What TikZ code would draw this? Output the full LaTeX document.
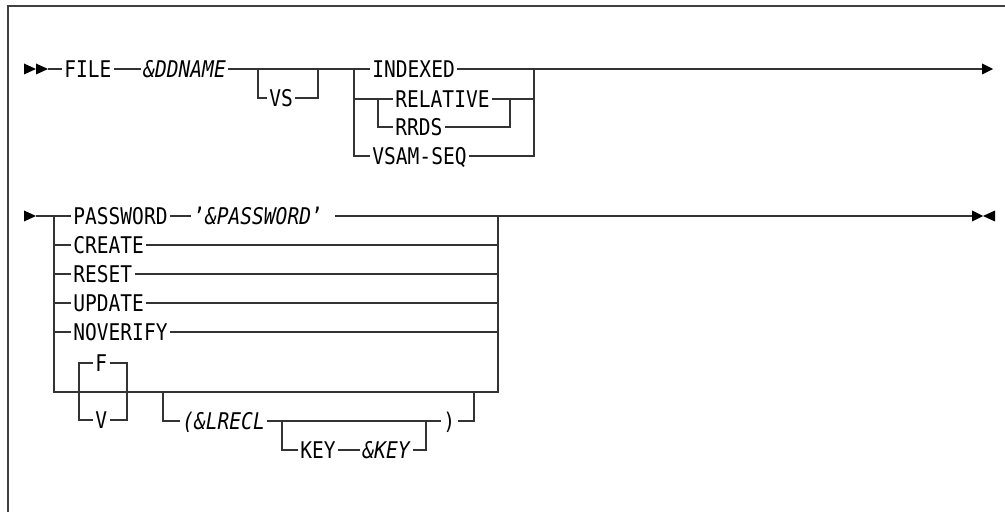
\documentclass[tikz,border=0pt]{standalone}
\usepackage{fontspec}
\newfontfamily\railfont{DejaVu Sans Mono}[FakeStretch=0.85]
\usetikzlibrary{positioning}

\begin{document}
\begin{tikzpicture}[x=0.5pt, y=-0.5pt,
    kw/.style={font=\railfont\fontsize{11.5}{13}\selectfont, anchor=west,
      inner xsep=1pt, inner ysep=0pt, text height=8.4pt, text depth=0pt},
    rail/.style={draw=black!80, line width=0.75pt},
    frame/.style={draw=black!75, line width=0.8pt}
  ]
    \useasboundingbox (0,0) rectangle (1005,512);
    \draw[frame] (8,512) -- (8,6) -- (1005,6);

    \node[kw] (file)     at (62,69)  {FILE};
    \node[kw] (ddname)   at (141,69) {\textit{\&DDNAME}};
    \node[kw] (vs)       at (267,98) {VS};
    \node[kw] (indexed)  at (370,69) {INDEXED};
    \node[kw] (relative) at (393,99) {RELATIVE};
    \node[kw] (rrds)     at (393,127) {RRDS};
    \node[kw] (vsamseq)  at (370,156) {VSAM-SEQ};

    \coordinate (start1) at (24,69);
    \coordinate (end1)   at (993,69);
    \coordinate (vs1) at (258,69);
    \coordinate (vs2) at (318,69);
    \coordinate (g1) at (354,69);
    \coordinate (g2) at (534,69);
    \coordinate (h1) at (378,99);
    \coordinate (h2) at (510,99);

    \foreach \d in {0,12}
      \fill ([xshift=\d*0.5pt]start1) ++(0,-5.5) -- ++(12,5.5) -- ++(-12,5.5) -- cycle;
    \fill (end1) -- ++(-11,-5.5) -- ++(0,11) -- cycle;

    \draw[rail] ([xshift=12pt]start1) -- (file.west) (file.east) -- (ddname.west)
      (ddname.east) -- (indexed.west) (indexed.east) -- ([xshift=-5.5pt]end1);
    \draw[rail] (vs1) |- (vs.west) (vs.east) -| (vs2);
    \draw[rail] (g1) |- (vsamseq.west) (vsamseq.east) -| (g2);
    \draw[rail] (g1 |- h1) -- (relative.west) (relative.east) -- (g2 |- h1);
    \draw[rail] (h1) |- (rrds.west) (rrds.east) -| (h2);

    \node[kw] (password) at (71,216) {PASSWORD};
    \node[kw] (pwval) [right=10.5pt of password] {’\textit{\&PASSWORD}’};
    \node[kw] (create)   at (71,245) {CREATE};
    \node[kw] (reset)    at (71,274) {RESET};
    \node[kw] (update)   at (71,303) {UPDATE};
    \node[kw] (noverify) at (71,332) {NOVERIFY};
    \node[kw] (f)        at (93,363) {F};
    \node[kw] (v)        at (93,420) {V};
    \node[kw] (lrecl)    at (180,421) {\textit{(\&LRECL}};
    \node[kw] (rparen)   at (441,421) {)};
    \node[kw] (key)      at (298,450) {KEY};
    \node[kw] (keyval) [right=11pt of key] {\textit{\&KEY}};

    \coordinate (start2) at (24,216);
    \coordinate (end2)   at (983,216);
    \coordinate (j1) at (54,216);
    \coordinate (j2) at (498,216);
    \coordinate (b1) at (54,392);
    \coordinate (b2) at (498,392);
    \coordinate (fv1) at (79,392);
    \coordinate (fv2) at (127,392);
    \coordinate (lr1) at (163,392);
    \coordinate (lr2) at (474,392);
    \coordinate (k1) at (282,421);
    \coordinate (k2) at (426,421);

    \fill (start2) ++(0,-5.5) -- ++(12,5.5) -- ++(-12,5.5) -- cycle;
    \fill (end2) -- ++(-11,-5.5) -- ++(0,11) -- cycle;
    \fill (end2) -- ++(12,-5.5) -- ++(0,11) -- cycle;

    \draw[rail] ([xshift=6pt]start2) -- (password.west) (password.east) -- (pwval.west)
      ([xshift=5pt]pwval.east) -- (j2) -- ([xshift=-5.5pt]end2);
    \draw[rail] (j1) -- (b1) -- (b2) -- (j2);
    \foreach \r in {create,reset,update,noverify}
      \draw[rail] (j1 |- \r) -- (\r.west) (\r.east) -- (j2 |- \r);
    \draw[rail] (f.west) -- (fv1 |- f) -- (fv1 |- v) -- (v.west);
    \draw[rail] (f.east) -- (fv2 |- f) -- (fv2 |- v) -- (v.east);
    \draw[rail] (lr1) |- (lrecl.west) (lrecl.east) -- (rparen.west) (rparen.east) -| (lr2);
    \draw[rail] (k1) |- (key.west) (key.east) -- (keyval.west) (keyval.east) -| (k2);
\end{tikzpicture}
\end{document}
